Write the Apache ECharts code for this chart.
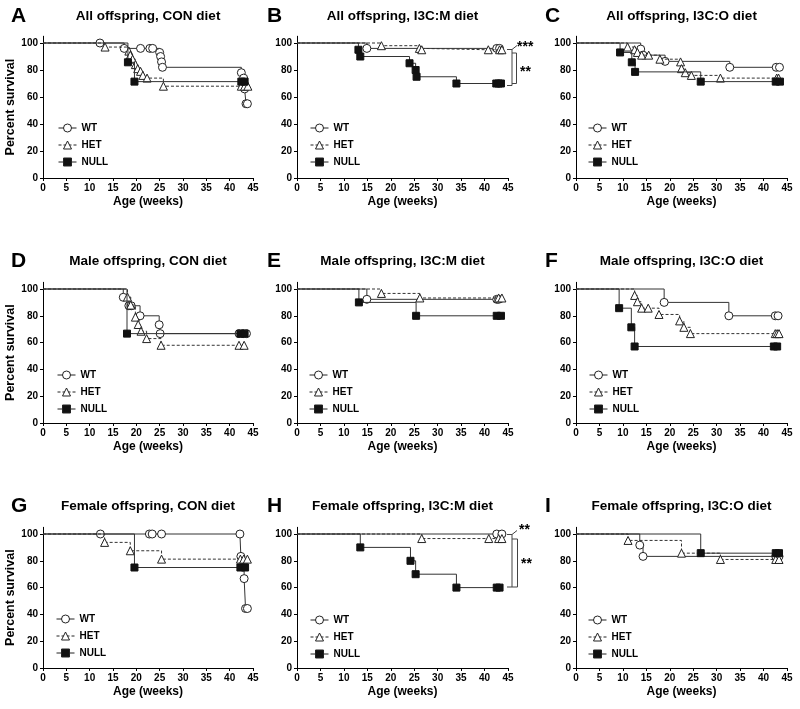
<!DOCTYPE html>
<html>
<head>
<meta charset="utf-8">
<script src="https://cdn.jsdelivr.net/npm/echarts@6/dist/echarts.min.js"></script>
<style>html,body{margin:0;padding:0;background:#fff;}#c{width:800px;height:709px;}</style>
</head>
<body>
<div id="c"></div>
<script>
// ---- Data: [age (weeks), percent survival] ----
const A_WT   = [[0,100],[12.2,100],[17.4,96],[20.9,96],[22.9,96],[23.5,96],[25.0,93],[25.2,90],[25.4,86],[25.6,82],[42.5,78],[43.0,74],[43.2,66],[43.5,55],[43.8,55]];
const A_HET  = [[0,100],[13.3,97],[18.4,94],[18.7,91],[19.2,88],[19.8,84],[20.3,81],[20.9,79],[21.4,76],[22.3,74],[25.8,68],[42.5,68],[43.2,68],[43.9,68]];
const A_NULL = [[0,100],[18.2,85.7],[19.6,71.4],[42.5,71.4],[43.2,71.4]];

const B_WT   = [[0,100],[14.9,96],[42.6,96],[43.2,96]];
const B_HET  = [[0,100],[18.0,98],[26.1,96],[26.6,95],[40.8,95],[43.2,95],[43.7,95]];
const B_NULL = [[0,100],[13.1,95],[13.5,90],[24.0,85],[25.3,80],[25.5,75],[34.0,70],[42.5,70],[43.0,70],[43.5,70]];

const C_WT   = [[0,100],[13.8,95.5],[14.3,91],[19.0,86.4],[32.8,82],[42.7,82],[43.4,82]];
const C_HET  = [[0,100],[11.0,97],[12.5,95],[13.1,93],[14.0,91],[15.5,91],[17.9,88],[22.3,86],[22.5,81],[23.3,78],[24.6,76],[30.8,74],[42.8,74],[43.2,74]];
const C_NULL = [[0,100],[9.4,93],[11.9,85.7],[12.6,78.6],[26.6,71.4],[42.6,71.4],[43.5,71.4]];

const D_WT   = [[0,100],[17.2,93.8],[18.4,87.5],[18.9,87.5],[20.8,80],[24.9,73.3],[25.1,66.7],[42.0,66.7],[42.9,66.7],[43.6,66.7]];
const D_HET  = [[0,100],[18.1,94],[18.8,88],[19.8,79],[20.4,73.5],[21.0,68.5],[22.2,63],[25.3,58],[42.0,58],[43.1,58]];
const D_NULL = [[0,100],[18.0,66.7],[42.3,66.7],[43.2,66.7]];

const E_WT   = [[0,100],[14.9,92.3],[42.6,92.3],[43.0,92.3]];
const E_HET  = [[0,100],[18.0,96.7],[26.2,93.3],[43.0,93.3],[43.7,93.3]];
const E_NULL = [[0,100],[13.2,90],[25.4,80],[42.6,80],[43.5,80]];

const F_WT   = [[0,100],[18.8,90],[32.6,80],[42.5,80],[43.1,80]];
const F_HET  = [[0,100],[12.5,95.2],[13.1,90.5],[14.0,85.7],[15.4,85.7],[17.7,81],[22.1,76.2],[23.0,71.4],[24.4,66.7],[42.5,66.7],[42.9,66.7],[43.3,66.7]];
const F_NULL = [[0,100],[9.2,85.7],[11.8,71.4],[12.5,57.1],[42.2,57.1],[42.9,57.1]];

const G_WT   = [[0,100],[12.3,100],[22.8,100],[23.4,100],[25.4,100],[42.2,100],[42.4,83.3],[43.1,66.7],[43.4,44.4],[43.8,44.4]];
const G_HET  = [[0,100],[13.2,93.75],[18.7,87.5],[25.4,81.25],[42.3,81.25],[43.0,81.25],[43.8,81.25]];
const G_NULL = [[0,100],[19.6,75],[42.3,75],[43.3,75]];

const H_WT   = [[0,100],[42.6,100],[43.7,100]];
const H_HET  = [[0,100],[26.6,96.6],[40.9,96.6],[43.0,96.6],[43.7,96.6]];
const H_NULL = [[0,100],[13.5,90],[24.2,80],[25.3,70],[34.0,60],[42.6,60],[43.2,60]];

const I_WT   = [[0,100],[13.6,91.7],[14.3,83.3],[42.6,83.3],[43.3,83.3]];
const I_HET  = [[0,100],[11.1,95.2],[22.5,85.7],[30.8,81],[42.6,81],[43.3,81]];
const I_NULL = [[0,100],[26.6,85.7],[42.6,85.7],[43.3,85.7]];

const groups = ['WT','HET','NULL'];
const letters = ['A','B','C','D','E','F','G','H','I'];
const titles = [
  'All offspring, CON diet','All offspring, I3C:M diet','All offspring, I3C:O diet',
  'Male offspring, CON diet','Male offspring, I3C:M diet','Male offspring, I3C:O diet',
  'Female offspring, CON diet','Female offspring, I3C:M diet','Female offspring, I3C:O diet'
];
const panelData = [
  [A_WT,A_HET,A_NULL],[B_WT,B_HET,B_NULL],[C_WT,C_HET,C_NULL],
  [D_WT,D_HET,D_NULL],[E_WT,E_HET,E_NULL],[F_WT,F_HET,F_NULL],
  [G_WT,G_HET,G_NULL],[H_WT,H_HET,H_NULL],[I_WT,I_HET,I_NULL]
];
const xTicks = [0,5,10,15,20,25,30,35,40,45];
const yTicks = [0,20,40,60,80,100];
const xName = 'Age (weeks)';
const yName = 'Percent survival';
const sigB = ['***','**'];
const sigH = ['**','**'];

// ---- Layout ----
const FONT = '"Liberation Sans", Arial, Helvetica, sans-serif';
const colLeft = [43, 297, 576];
const colWidth = [210, 211, 211];
const rowTop = [36.25, 282.3, 527.3];
const rowHeight = [141.75, 140.7, 140.7];
const rowTitleY = [16, 261.5, 506.5];
const letterX = [11, 267, 545];
const legendPos = [[58,123],[310,123],[588,123],[57,370],[309,370],[589,370],[56,614],[310,615],[588,615]];

const grids = [], xAxes = [], yAxes = [], series = [], legends = [], graphics = [];
const lineCol = '#333';
const styles = [
  {symbol:'circle', symbolSize:8, itemStyle:{color:'#fff', borderColor:'#222', borderWidth:1}, lineStyle:{color:lineCol, width:1, type:'solid'}},
  {symbol:'triangle', symbolSize:8, itemStyle:{color:'#fff', borderColor:'#222', borderWidth:1}, lineStyle:{color:lineCol, width:1, type:[3,2]}},
  {symbol:'rect', symbolSize:7, itemStyle:{color:'#111', borderColor:'#111', borderWidth:1}, lineStyle:{color:lineCol, width:1, type:'solid'}}
];

for (let i = 0; i < 9; i++) {
  const r = Math.floor(i/3), c = i % 3;
  grids.push({left: colLeft[c], top: rowTop[r], width: colWidth[c], height: rowHeight[r], containLabel:false});
  xAxes.push({
    type:'value', gridIndex:i, min:0, max:45, interval:5,
    name:xName, nameLocation:'middle', nameGap:18,
    nameTextStyle:{fontFamily:FONT, fontWeight:'bold', fontSize:12, color:'#000'},
    axisLine:{show:true, onZero:false, lineStyle:{color:'#000', width:1}},
    axisTick:{show:true, length:3, lineStyle:{color:'#000'}},
    axisLabel:{fontFamily:FONT, fontWeight:'bold', fontSize:10, color:'#000', margin:5, customValues:xTicks},
    splitLine:{show:false}
  });
  yAxes.push({
    type:'value', gridIndex:i, min:0, max:105,
    name: c === 0 ? yName : '', nameLocation:'middle', nameGap:22,
    nameTextStyle:{fontFamily:FONT, fontWeight:'bold', fontSize:12.5, color:'#000'},
    axisLine:{show:true, onZero:false, lineStyle:{color:'#000', width:1}},
    axisTick:{show:true, length:3, lineStyle:{color:'#000'}, customValues:yTicks},
    axisLabel:{fontFamily:FONT, fontWeight:'bold', fontSize:10, color:'#000', margin:5, customValues:yTicks},
    splitLine:{show:false}
  });
  for (let g = 0; g < 3; g++) {
    const arr = panelData[i][g];
    const data = arr.map((d, j) => j === 0 ? {value: d, symbol: 'none'} : d);
    series.push(Object.assign({
      type:'line', name: groups[g], xAxisIndex:i, yAxisIndex:i, step:'end',
      data: data, showAllSymbol:true, animation:false, z: 2 + g, silent:true
    }, JSON.parse(JSON.stringify(styles[g]))));
  }
  legends.push({
    data: groups, orient:'vertical', left: legendPos[i][0], top: legendPos[i][1],
    itemWidth:18, itemHeight:10, itemGap:7, selectedMode:false, padding:0,
    itemStyle:{borderWidth:1, borderColor:'#222'},
    lineStyle:{width:1, color:'#222'},
    textStyle:{fontFamily:FONT, fontWeight:'bold', fontSize:10, color:'#000', lineHeight:10}
  });
  graphics.push({
    type:'text', x: colLeft[c] + colWidth[c]/2, y: rowTitleY[r],
    style:{text: titles[i], fontFamily:FONT, fontWeight:'bold', fontSize:13.5, fill:'#000', align:'center', verticalAlign:'middle'}
  });
  graphics.push({
    type:'text', x: letterX[c], y: rowTitleY[r],
    style:{text: letters[i], fontFamily:FONT, fontWeight:'bold', fontSize:21, fill:'#000', align:'left', verticalAlign:'middle'}
  });
}

// significance brackets (B and H)
const brk = '#444';
function poly(pts){ return {type:'polyline', shape:{points:pts}, style:{stroke:brk, lineWidth:1, fill:null}}; }
function stars(t, x, y){ return {type:'text', x:x, y:y, style:{text:t, fontFamily:FONT, fontWeight:'bold', fontSize:14, fill:'#000', align:'left', verticalAlign:'top'}}; }
graphics.push(poly([[507,49.5],[512,49.5],[512,85.5],[507,85.5]]));
graphics.push(poly([[512,49.5],[517,45.5]]));
graphics.push(stars(sigB[0], 517, 40));
graphics.push(poly([[512,53],[516.5,53],[516.5,83.5],[512,83.5]]));
graphics.push(stars(sigB[1], 520, 65));
graphics.push(poly([[507,534.5],[512,534.5],[512,587],[507,587]]));
graphics.push(poly([[512,534.5],[517,530.5]]));
graphics.push(stars(sigH[0], 519, 523));
graphics.push(poly([[512,539],[517.5,539],[517.5,587],[512,587]]));
graphics.push(stars(sigH[1], 521, 557));

const chart = echarts.init(document.getElementById('c'), null, {renderer:'canvas'});
chart.setOption({
  animation:false,
  backgroundColor:'#fff',
  grid: grids, xAxis: xAxes, yAxis: yAxes, series: series, legend: legends,
  graphic: graphics
});
</script>
</body>
</html>
